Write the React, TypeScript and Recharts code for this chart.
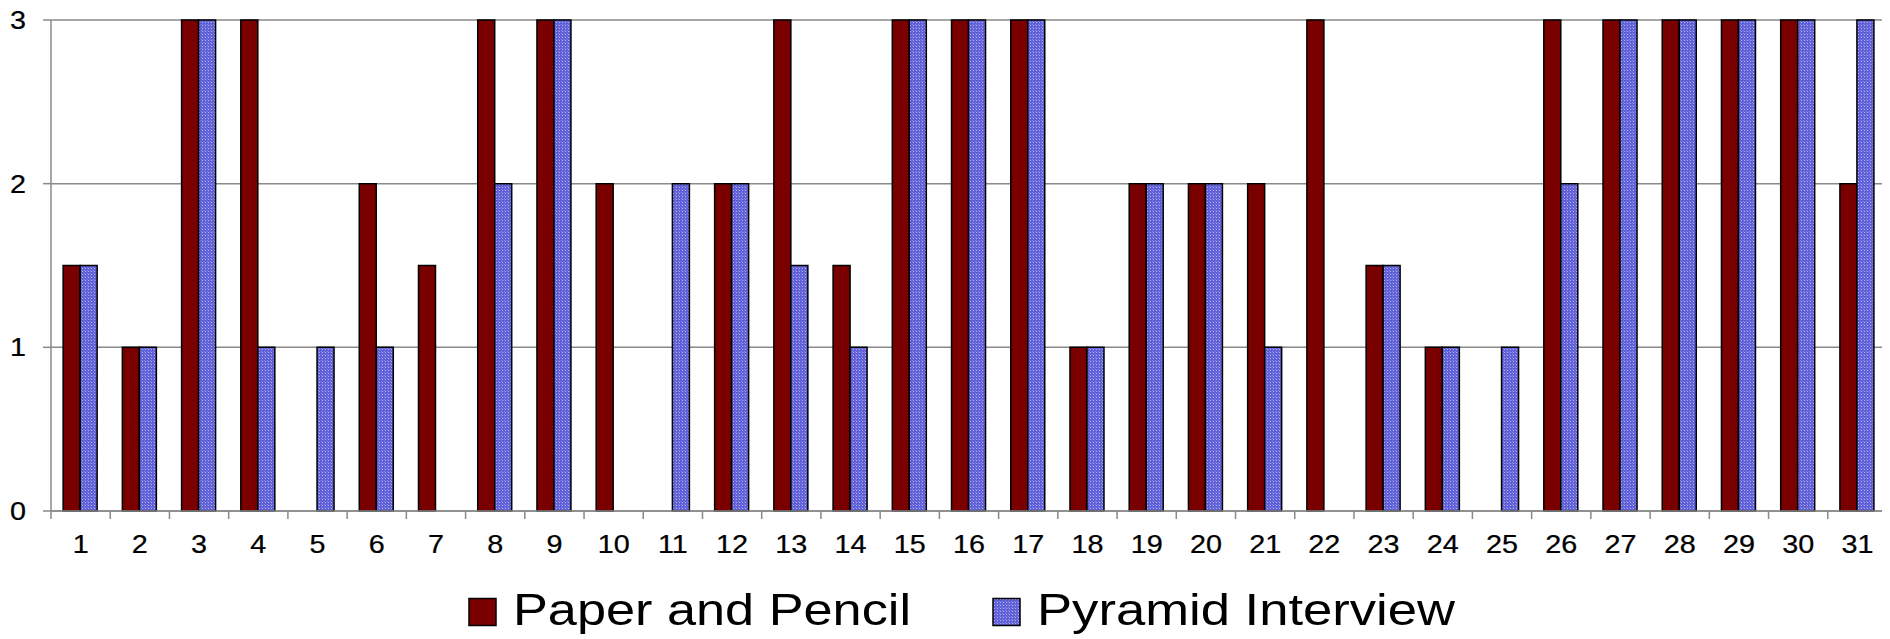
import React from 'react';
import { BarChart, Bar, XAxis, YAxis, CartesianGrid, Legend } from 'recharts';

// Question numbers along the horizontal axis
const items = [
  '1', '2', '3', '4', '5', '6', '7', '8', '9', '10', '11', '12', '13', '14', '15', '16',
  '17', '18', '19', '20', '21', '22', '23', '24', '25', '26', '27', '28', '29', '30', '31',
];

// Scores per question for each method
const paperAndPencil = [
  1.5, 1, 3, 3, 0, 2, 1.5, 3, 3, 2, 0, 2, 3, 1.5, 3, 3,
  3, 1, 2, 2, 2, 3, 1.5, 1, 0, 3, 3, 3, 3, 3, 2,
];
const pyramidInterview = [
  1.5, 1, 3, 1, 1, 1, 0, 2, 3, 0, 2, 2, 1.5, 1, 3, 3,
  3, 1, 2, 2, 1, 0, 1.5, 1, 1, 2, 3, 3, 3, 3, 3,
];

const seriesNames = ['Paper and Pencil', 'Pyramid Interview'];
const yTicks = [0, 1, 2, 3];

const data = items.map((item, i) => ({
  item,
  paper: paperAndPencil[i],
  pyramid: pyramidInterview[i],
}));

// Layout
const W = 1890;
const H = 639;
const PLOT_LEFT = 51;
const PLOT_RIGHT = 1887;
const PLOT_TOP = 20;
const PLOT_BOTTOM = 511;
const BAND = (PLOT_RIGHT - PLOT_LEFT) / items.length;
const AXIS_COLOR = '#8a8a8a';
const FONT = '"Liberation Sans", Arial, Helvetica, sans-serif';
const RED = '#7a0000';
const TICK_FONT = 25;
const TICK_STRETCH = 1.15;

const YTick = (props: any) => {
  const { x, y, payload } = props;
  return (
    <text
      transform={`translate(${x},${y}) scale(${TICK_STRETCH},1)`}
      textAnchor="end"
      dy="0.36em"
      fontSize={TICK_FONT}
      fontFamily={FONT}
      fill="#000"
      stroke="#000"
      strokeWidth={0.25}
    >
      {payload.value}
    </text>
  );
};

const XTick = (props: any) => {
  const { x, payload, index } = props;
  const left = x - BAND / 2;
  const last = index === items.length - 1;
  return (
    <g>
      <line x1={left} x2={left} y1={PLOT_BOTTOM} y2={PLOT_BOTTOM + 8} stroke={AXIS_COLOR} strokeWidth={1.5} />
      {last && (
        <line x1={x + BAND / 2} x2={x + BAND / 2} y1={PLOT_BOTTOM} y2={PLOT_BOTTOM + 8} stroke={AXIS_COLOR} strokeWidth={1.5} />
      )}
      <text
        transform={`translate(${x},${PLOT_BOTTOM + 33}) scale(${TICK_STRETCH},1)`}
        textAnchor="middle"
        dy="0.36em"
        fontSize={TICK_FONT}
        fontFamily={FONT}
        fill="#000"
        stroke="#000"
        strokeWidth={0.25}
      >
        {payload.value}
      </text>
    </g>
  );
};

const legendSlots = [
  { box: 469, text: 513, len: 398 },
  { box: 993, text: 1037, len: 418 },
];

const LegendContent = (props: any) => {
  const payload = props.payload || [];
  return (
    <svg width={W} height={59} style={{ display: 'block' }}>
      {payload.map((entry: any, i: number) => {
        const slot = legendSlots[i];
        if (!slot) return null;
        return (
          <g key={entry.value}>
            <rect
              x={slot.box}
              y={18.5}
              width={27}
              height={27}
              fill={i === 0 ? RED : 'url(#pyramidFill)'}
              stroke="#000"
              strokeWidth={1.5}
            />
            <text
              x={slot.text}
              y={45}
              fontSize={45}
              fontFamily={FONT}
              fill="#000"
              textLength={slot.len}
              lengthAdjust="spacingAndGlyphs"
            >
              {entry.value}
            </text>
          </g>
        );
      })}
    </svg>
  );
};

export default function App() {
  return (
    <div style={{ marginLeft: -8, marginTop: -8, width: W, height: H, position: 'relative', background: '#fff' }}>
      <svg width={0} height={0} style={{ position: 'absolute' }}>
        <defs>
          <pattern id="pyramidFill" patternUnits="userSpaceOnUse" width={3} height={3}>
            <rect x={0} y={0} width={3} height={3} fill="#5f5fd8" />
            <rect x={1} y={1} width={1} height={1} fill="#b4b4f2" />
            <rect x={0} y={0} width={1} height={1} fill="#8383e4" />
          </pattern>
        </defs>
      </svg>
      <BarChart
        width={W}
        height={H}
        data={data}
        margin={{ top: PLOT_TOP, right: W - PLOT_RIGHT, left: 0, bottom: 88 }}
        barCategoryGap="20.5%"
        barGap={0}
      >
        <CartesianGrid vertical={false} stroke={AXIS_COLOR} strokeWidth={1.5} />
        <XAxis
          dataKey="item"
          height={40}
          axisLine={{ stroke: AXIS_COLOR, strokeWidth: 1.5 }}
          tickLine={false}
          tick={<XTick />}
          interval={0}
        />
        <YAxis
          width={PLOT_LEFT}
          domain={[0, 3]}
          ticks={yTicks}
          interval={0}
          axisLine={{ stroke: AXIS_COLOR, strokeWidth: 1.5 }}
          tickLine={{ stroke: AXIS_COLOR, strokeWidth: 1.5 }}
          tickSize={8}
          tickMargin={17}
          tick={<YTick />}
        />
        <Legend
          layout="horizontal"
          verticalAlign="middle"
          align="center"
          content={<LegendContent />}
          wrapperStyle={{ position: 'absolute', left: 0, top: 580, width: W, height: 59 }}
        />
        <Bar dataKey="paper" name={seriesNames[0]} fill={RED} stroke="#000" strokeWidth={1.5} isAnimationActive={false} />
        <Bar dataKey="pyramid" name={seriesNames[1]} fill="url(#pyramidFill)" stroke="#000" strokeWidth={1.5} isAnimationActive={false} />
      </BarChart>
    </div>
  );
}
